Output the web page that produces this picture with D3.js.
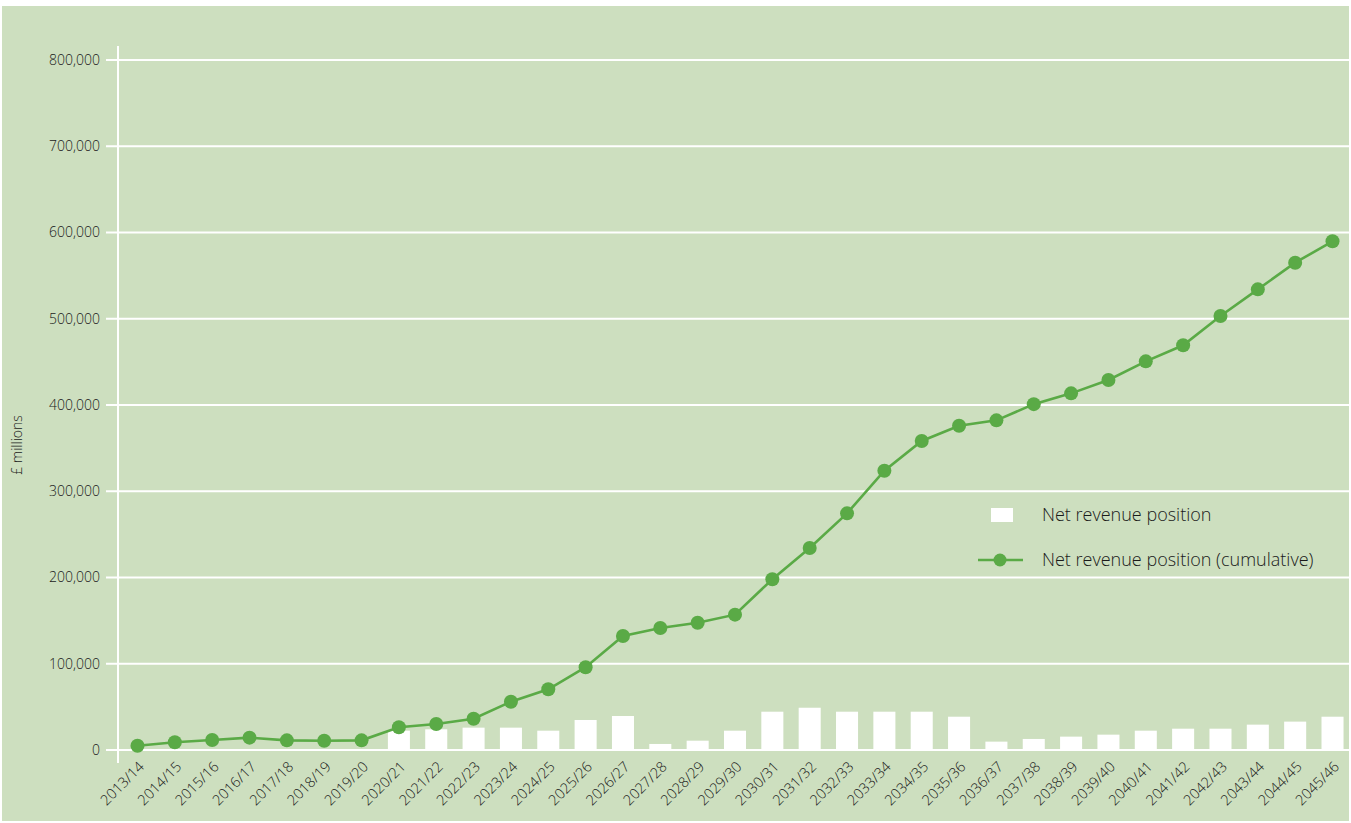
<!DOCTYPE html>
<html>
<head>
<meta charset="utf-8">
<script src="https://cdn.jsdelivr.net/npm/d3@7"></script>
<style>
	body { margin: 0; background: #fff; }
	text { font-family: "Open Sans", sans-serif; font-weight: 300; fill: #1a1a1a; }
</style>
</head>
<body>
<svg id="chart" width="1351" height="823"></svg>
<script>

var years = ["2013/14", "2014/15", "2015/16", "2016/17", "2017/18", "2018/19", "2019/20",
	"2020/21", "2021/22", "2022/23", "2023/24", "2024/25", "2025/26", "2026/27", "2027/28",
	"2028/29", "2029/30", "2030/31", "2031/32", "2032/33", "2033/34", "2034/35", "2035/36",
	"2036/37", "2037/38", "2038/39", "2039/40", "2040/41", "2041/42", "2042/43", "2043/44",
	"2044/45", "2045/46"];

// annual net revenue position (bars)
var annual = [0, 0, 0, 0, 0, 0, 0,
	22400, 24000, 25900, 25900, 22400, 34800, 39400, 7000,
	10800, 22400, 44400, 49000, 44400, 44400, 44400, 38600,
	9700, 12800, 15500, 17800, 22400, 24700, 24700, 29400,
	32900, 38600];

// cumulative net revenue position (line)
var cumulative = [5000, 8900, 11600, 14300, 11200, 10800, 11200,
	26300, 30100, 36300, 56000, 70400, 96000, 132200, 141400,
	147600, 156900, 198000, 234200, 274400, 323800, 358300, 376000,
	382200, 401000, 413500, 429000, 450600, 469200, 503200, 534100,
	565000, 589800];

var yTicks = [0, 100000, 200000, 300000, 400000, 500000, 600000, 700000, 800000];

var seriesNames = ["Net revenue position", "Net revenue position (cumulative)"];

var data = years.map((y, i) => ({year: y, annual: annual[i], cum: cumulative[i]}));

var svg = d3.select("#chart"),
	green = "#5aaa46",
	bg = "#cddfbf";

svg.append("rect")
	.attr("x", 2).attr("y", 6)
	.attr("width", 1347).attr("height", 815)
	.attr("fill", bg);

var x = d3.scaleBand()
	.domain(years)
	.range([119, 1351])
	.paddingInner(0.41)
	.paddingOuter(0.2);

var y = d3.scaleLinear()
	.domain([0, 800000])
	.range([750, 60]);

// gridlines + tick marks
var grid = svg.append("g");
grid.selectAll("line")
	.data(yTicks)
	.enter().append("line")
		.attr("x1", 106).attr("x2", 1349)
		.attr("y1", d => y(d)).attr("y2", d => y(d))
		.attr("stroke", "#fff")
		.attr("stroke-width", 2);

grid.selectAll("text")
	.data(yTicks)
	.enter().append("text")
		.attr("x", 100)
		.attr("y", d => y(d))
		.attr("dy", "0.35em")
		.attr("text-anchor", "end")
		.style("font-size", "14px")
		.text(d => d3.format(",")(d));

svg.append("line")
	.attr("x1", 118).attr("x2", 118)
	.attr("y1", 46).attr("y2", 763)
	.attr("stroke", "#fff")
	.attr("stroke-width", 2);

svg.append("text")
	.attr("transform", "translate(17,445) rotate(-90)")
	.attr("text-anchor", "middle")
	.attr("dy", "0.35em")
	.style("font-size", "14px")
	.text("£ millions");

// x labels
svg.append("g").selectAll("text")
	.data(years)
	.enter().append("text")
		.attr("transform", d => "translate(" + (x(d) + x.bandwidth() / 2 + 4) + ",764) rotate(-45)")
		.attr("text-anchor", "end")
		.attr("dy", "0.35em")
		.style("font-size", "14.5px")
		.text(d => d);

// bars
svg.append("g").selectAll("rect")
	.data(data.filter(d => d.annual > 0))
	.enter().append("rect")
		.attr("x", d => x(d.year))
		.attr("y", d => y(d.annual))
		.attr("width", x.bandwidth())
		.attr("height", d => y(0) - y(d.annual) - 1)
		.attr("fill", "#fff");

// cumulative line
var cx = d => x(d.year) + x.bandwidth() / 2;

svg.append("path")
	.datum(data)
	.attr("fill", "none")
	.attr("stroke", green)
	.attr("stroke-width", 2.6)
	.attr("d", d3.line().x(cx).y(d => y(d.cum)));

svg.append("g").selectAll("circle")
	.data(data)
	.enter().append("circle")
		.attr("cx", cx)
		.attr("cy", d => y(d.cum))
		.attr("r", 7)
		.attr("fill", green);

// legend
var legend = svg.append("g");

legend.append("rect")
	.attr("x", 991).attr("y", 508)
	.attr("width", 22).attr("height", 14)
	.attr("fill", "#fff");

legend.append("line")
	.attr("x1", 978).attr("x2", 1023)
	.attr("y1", 560).attr("y2", 560)
	.attr("stroke", green)
	.attr("stroke-width", 2.6);

legend.append("circle")
	.attr("cx", 1000).attr("cy", 560)
	.attr("r", 6.5)
	.attr("fill", green);

legend.selectAll("text")
	.data(seriesNames)
	.enter().append("text")
		.attr("x", 1042)
		.attr("y", (d, i) => 515 + i * 45)
		.attr("dy", "0.35em")
		.style("font-size", "18px")
		.text(d => d);

</script>
</body>
</html>
